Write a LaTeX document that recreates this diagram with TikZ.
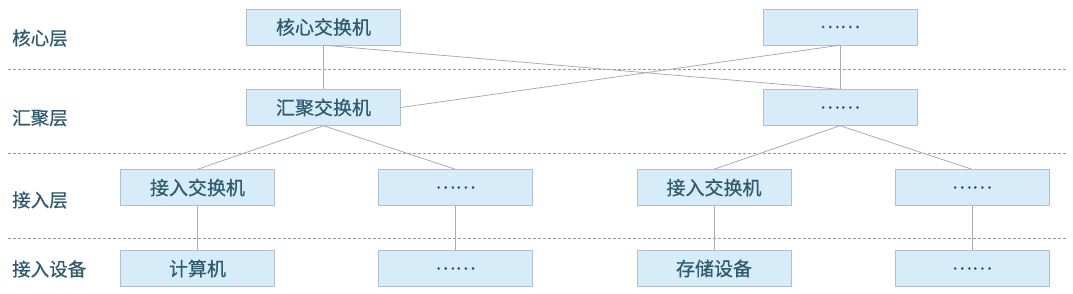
\documentclass[tikz,border=0pt]{standalone}
\usepackage{fontspec}
\setmainfont{Noto Sans CJK SC}
\newfontfamily\boxfont{Noto Sans CJK SC}[FakeBold=0.6]
\definecolor{boxFill}{RGB}{214,236,249}
\definecolor{boxLine}{RGB}{175,192,204}
\definecolor{textTeal}{RGB}{48,90,110}
\definecolor{linkGray}{RGB}{172,172,172}
\definecolor{sepGray}{RGB}{150,155,160}

\begin{document}
\begin{tikzpicture}[x=1pt, y=-1pt,
    box/.style={draw=boxLine, fill=boxFill, minimum width=154pt, minimum height=36pt,
      inner sep=0pt, text=textTeal, font=\boxfont\fontsize{19}{19}\selectfont},
    layer/.style={anchor=west, inner sep=0pt, text=textTeal, font=\boxfont\fontsize{18.5}{19}\selectfont},
    link/.style={draw=linkGray, line width=0.8pt},
    sep/.style={draw=sepGray, dash pattern=on 3pt off 2pt, line width=0.8pt}]
        \useasboundingbox (0,0) rectangle (1073,293);

        % layer separators
        \foreach \y in {69,153,238}
          \draw[sep] (8,\y) -- (1066,\y);

        % layer names
        \node[layer] (lcore) at (12,38) {核心层};
        \node[layer] (lagg) at (12,118) {汇聚层};
        \node[layer] (lacc) at (12,200) {接入层};
        \node[layer] (ldev) at (12,269) {接入设备};

        % switches and devices
        \node[box] (core1) at (323.5,27) {核心交换机};
        \node[box] (core2) at (840,27) {……};
        \node[box] (agg1) at (323.5,107.5) {汇聚交换机};
        \node[box] (agg2) at (840,107.5) {……};
        \node[box] (acc1) at (197.5,187.5) {接入交换机};
        \node[box] (acc2) at (455.5,187.5) {……};
        \node[box] (acc3) at (714,187.5) {接入交换机};
        \node[box] (acc4) at (972,187.5) {……};
        \node[box] (dev1) at (197.5,268.5) {计算机};
        \node[box] (dev2) at (455.5,268.5) {……};
        \node[box] (dev3) at (714,268.5) {存储设备};
        \node[box] (dev4) at (972,268.5) {……};

        \draw[link] (core1.south) -- (agg1.north);
        \draw[link] (core1.south) -- (agg2.north);
        \draw[link] (agg1.east) -- (core2.south);
        \draw[link] (core2.south) -- (agg2.north);
        \draw[link] (agg1.south) -- (acc1.north);
        \draw[link] (agg1.south) -- (acc2.north);
        \draw[link] (agg2.south) -- (acc3.north);
        \draw[link] (agg2.south) -- (acc4.north);
        \foreach \i in {1,2,3,4}
          \draw[link] (acc\i.south) -- (dev\i.north);
      \end{tikzpicture}
\end{document}
